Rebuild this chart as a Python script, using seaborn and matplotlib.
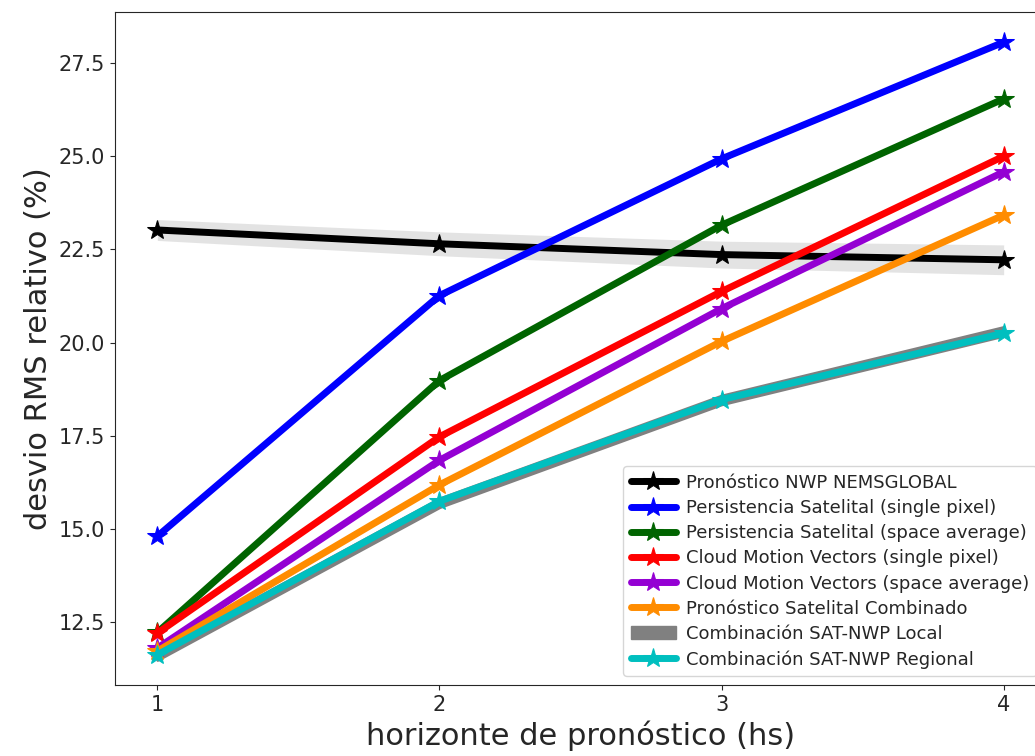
import numpy as np
import pandas as pd
import matplotlib
matplotlib.use("Agg")
import matplotlib.pyplot as plt
import seaborn as sns
from matplotlib.patches import Patch

horizons = [1, 2, 3, 4]
nwp_global = [23.02, 22.65, 22.36, 22.22]
nwp_global_err = [0.28, 0.32, 0.36, 0.40]
pers_single = [14.80, 21.26, 24.93, 28.06]
pers_space = [12.22, 18.98, 23.15, 26.54]
cmv_single = [12.20, 17.47, 21.37, 25.00]
cmv_space = [11.80, 16.84, 20.91, 24.58]
sat_comb = [11.72, 16.18, 20.03, 23.42]
comb_local = [11.60, 15.70, 18.46, 20.30]
comb_local_err = [0.12, 0.12, 0.12, 0.12]
comb_regional = [11.62, 15.74, 18.47, 20.25]

labels = [
    "Pronóstico NWP NEMSGLOBAL",
    "Persistencia Satelital (single pixel)",
    "Persistencia Satelital (space average)",
    "Cloud Motion Vectors (single pixel)",
    "Cloud Motion Vectors (space average)",
    "Pronóstico Satelital Combinado",
    "Combinación SAT-NWP Local",
    "Combinación SAT-NWP Regional",
]

sns.set_style("ticks")
plt.rcParams["font.family"] = ["DejaVu Sans"]

fig = plt.figure(figsize=(10.35, 7.56), dpi=100)
ax = fig.add_axes([115 / 1035, 1 - 685 / 756, (1046 - 115) / 1035, (685 - 12) / 756])

x = np.array(horizons)
lw = 5
ms = 15

# NWP global band
g = np.array(nwp_global)
ge = np.array(nwp_global_err)
ax.fill_between(x, g - ge, g + ge, color="#b0b0b0", alpha=0.35, linewidth=0, zorder=1)

series = [
    (nwp_global, "black"),
    (pers_single, "blue"),
    (pers_space, "darkgreen"),
    (cmv_single, "red"),
    (cmv_space, "darkviolet"),
    (sat_comb, "darkorange"),
]

for (vals, col), lab in zip(series, labels[:6]):
    df = pd.DataFrame({"h": horizons, "v": vals})
    sns.lineplot(data=df, x="h", y="v", ax=ax, color=col, linewidth=lw,
                 marker="*", markersize=ms, markeredgecolor=col, label=lab, zorder=3)

# local band
lo = np.array(comb_local)
le = np.array(comb_local_err)
ax.fill_between(x, lo - le, lo + le, color="gray", linewidth=2, edgecolor="gray", zorder=2)

df = pd.DataFrame({"h": horizons, "v": comb_regional})
sns.lineplot(data=df, x="h", y="v", ax=ax, color="c", linewidth=lw,
             marker="*", markersize=ms, markeredgecolor="c", label=labels[7], zorder=4)

h, l = ax.get_legend_handles_labels()
hmap = dict(zip(l, h))
hmap[labels[6]] = Patch(facecolor="gray", edgecolor="gray")
ax.legend([hmap[k] for k in labels], labels, loc="lower right", fontsize=13,
          handlelength=2.5, handletextpad=0.6, labelspacing=0.4, borderaxespad=0.5)

ax.set_xlim(0.85, 4.15)
ax.set_ylim(10.81, 28.87)
ax.set_xticks(horizons)
ax.set_yticks([12.5, 15.0, 17.5, 20.0, 22.5, 25.0, 27.5])
ax.set_yticklabels(["12.5", "15.0", "17.5", "20.0", "22.5", "25.0", "27.5"])
ax.tick_params(labelsize=15)
ax.set_xlabel("horizonte de pronóstico (hs)", fontsize=22)
ax.set_ylabel("desvio RMS relativo (%)", fontsize=22)

fig.savefig("out.png", dpi=100)
